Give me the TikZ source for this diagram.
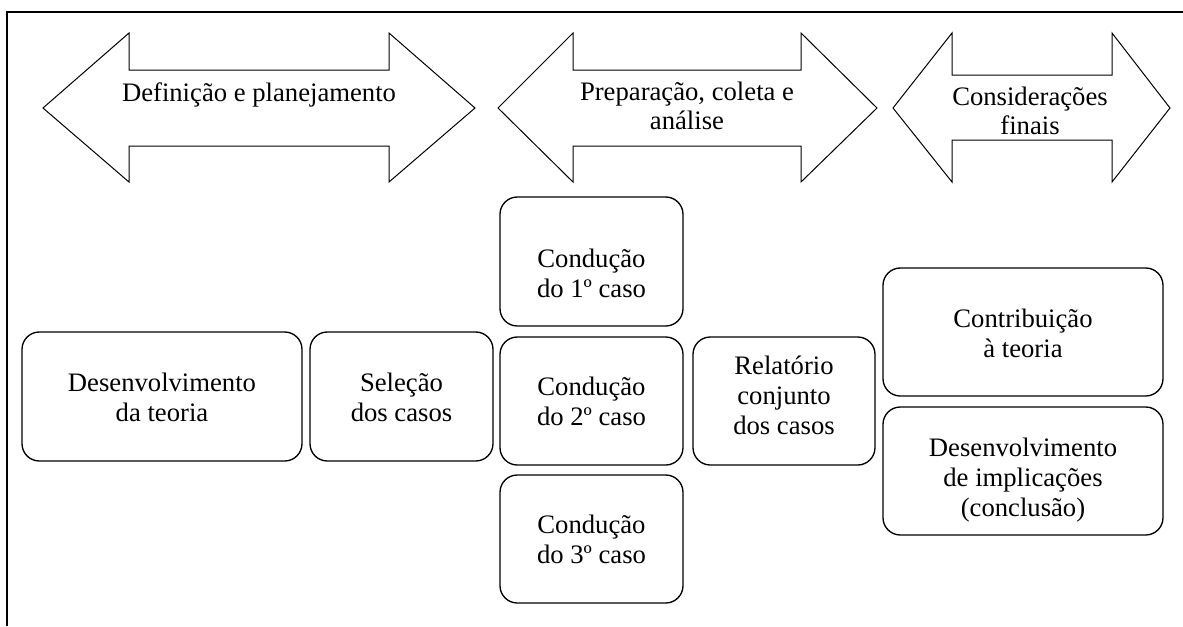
\documentclass[tikz,border=0pt]{standalone}
\usepackage{fontspec}
\setmainfont{Liberation Serif}
\begin{document}
\begin{tikzpicture}[x=0.75pt,y=-0.75pt,
  stage/.style={draw, line width=1pt, rounded corners=13pt, inner sep=0pt},
  stagetext/.style={align=center, inner sep=0pt, font=\fontsize{20}{22.5}\selectfont},
  band/.style={draw, line width=0.75pt, line join=miter},
  bandlabel/.style={align=center, inner sep=0pt, font=\fontsize{20}{21.5}\selectfont}]
\useasboundingbox (0,0) rectangle (1183,626);

% open frame: top and left edges only
\draw[line width=1.6pt] (7,626) -- (7,12) -- (1183,12);

% phase bands (double-headed block arrows)
\draw[band] (43,108) -- (129,33) -- (129,70) -- (389,70) -- (389,33) -- (475,108)
  -- (389,182) -- (389,146) -- (129,146) -- (129,182) -- cycle;
\draw[band] (498,108) -- (573,33) -- (573,70) -- (801,70) -- (801,33) -- (877,108)
  -- (801,182) -- (801,146) -- (573,146) -- (573,182) -- cycle;
\draw[band] (893,108) -- (952,33) -- (952,75) -- (1112,75) -- (1112,33) -- (1170,108)
  -- (1112,182) -- (1112,140) -- (952,140) -- (952,182) -- cycle;

\node[bandlabel] (p1) at (259,95) {Definição e planejamento};
\node[bandlabel] (p2) at (687,106) {Preparação, coleta e\\análise};
\node[bandlabel] (p3) at (1030,111) {Considerações\\finais};

% activity boxes (frame, then its text)
\node[stage, minimum width=210pt, minimum height=96.75pt] (teoria) at (162,396.5) {};
\node[stagetext] (teoriat) at (162,397.5) {Desenvolvimento\\da teoria};

\node[stage, minimum width=137.25pt, minimum height=96.75pt] (selecao) at (401.5,396.5) {};
\node[stagetext] (selecaot) at (401.5,397.5) {Seleção\\dos casos};

\node[stage, minimum width=137.25pt, minimum height=96.75pt] (caso1) at (591.5,261.5) {};
\node[stagetext] (caso1t) at (591.5,273) {Condução\\do 1º caso};

\node[stage, minimum width=137.25pt, minimum height=96pt] (caso2) at (591.5,401) {};
\node[stagetext] (caso2t) at (591.5,401) {Condução\\do 2º caso};

\node[stage, minimum width=137.25pt, minimum height=96pt] (caso3) at (591.5,539) {};
\node[stagetext] (caso3t) at (591.5,539) {Condução\\do 3º caso};

\node[stage, minimum width=136.5pt, minimum height=96pt] (relat) at (784,401) {};
\node[stagetext] (relatt) at (784,395.5) {Relatório\\conjunto\\dos casos};

\node[stage, minimum width=210pt, minimum height=96pt] (contrib) at (1023,332) {};
\node[stagetext] (contribt) at (1023,333) {Contribuição\\à teoria};

\node[stage, minimum width=210pt, minimum height=96pt] (implic) at (1023,471) {};
\node[stagetext] (implict) at (1023,480) {Desenvolvimento\\de implicações\\(conclusão)};
\end{tikzpicture}
\end{document}
